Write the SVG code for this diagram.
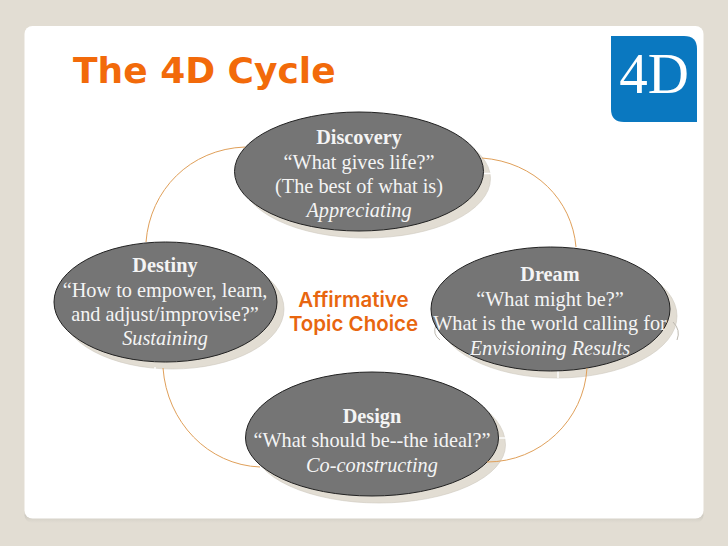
<svg xmlns="http://www.w3.org/2000/svg" width="728" height="546" viewBox="0 0 728 546">
<style>
.shadow{fill:#e2ddd3;stroke:#cfcabf;stroke-width:.6}
.oval{fill:#757575;stroke:#222;stroke-width:1}
.t{font-family:"Liberation Serif",serif;font-size:20.300px;fill:#f4f4f4;text-anchor:middle}
.b{font-weight:700}
.i{font-style:italic}
.arc{fill:none;stroke:#e0a05a;stroke-width:1}
.tick{stroke:#fff;stroke-width:1.400}
.paren{fill:none;stroke:#bdb9b0;stroke-width:1}
.atc{font-family:"Inter","Liberation Sans",sans-serif;font-weight:600;font-size:20.500px;fill:#e8660f;text-anchor:middle}
</style>
<defs>
<linearGradient id="ps" x1="0" y1="0" x2="0" y2="1"><stop offset="0" stop-color="#bdbab3"/><stop offset="1" stop-color="#e2ddd3"/></linearGradient>
</defs>
<rect width="728" height="546" fill="#e2ddd3"/>
<g id="panel">
<rect x="24.500" y="508" width="679" height="15" rx="8" fill="url(#ps)"/>
<rect x="24.500" y="26" width="679" height="492.500" rx="8" fill="#fff"/>
</g>
<text x="73" y="83" font-family="'DejaVu Sans',Verdana,sans-serif" font-weight="700" font-size="36" fill="#f26a0a">The 4D Cycle</text>
<g id="logo">
<path d="M611 36H684Q697 36 697 49V122H624Q611 122 611 109Z" fill="#0a78c0"/>
<text x="654" y="93" font-family="'Liberation Serif',serif" font-size="57" fill="#fff" text-anchor="middle">4D</text>
</g>
<g id="node-discovery">
<ellipse class="shadow" cx="366" cy="178.500" rx="124.500" ry="59.500"/>
<path class="tick" d="M483 173.500H491M235 173.500H237"/>
<ellipse class="oval" cx="359" cy="171.500" rx="124.500" ry="59.500"/>
<text class="t b" x="359" y="143.500">Discovery</text>
<text class="t" x="359" y="168.500">“What gives life?”</text>
<text class="t" x="359" y="192.500">(The best of what is)</text>
<text class="t i" x="359" y="216.500">Appreciating</text>
</g>
<g id="node-dream">
<ellipse class="shadow" cx="557.500" cy="316" rx="119.500" ry="62"/>
<path class="paren" d="M436 325Q432 334 440 340M673 322Q681 330 677 340"/>
<path class="tick" d="M558 371V378"/>
<ellipse class="oval" cx="550.500" cy="309" rx="119.500" ry="62"/>
<text class="t b" x="550" y="280.500">Dream</text>
<text class="t" x="550" y="305.500">“What might be?”</text>
<text class="t" x="550" y="329.500">What is the world calling for</text>
<text class="t i" x="550" y="354.500">Envisioning Results</text>
</g>
<g id="node-destiny">
<ellipse class="shadow" cx="172.500" cy="309" rx="111.500" ry="60"/>
<path class="tick" d="M155 242V244M155 367V369"/>
<ellipse class="oval" cx="165.500" cy="302" rx="111.500" ry="60"/>
<text class="t b" x="165" y="271.500">Destiny</text>
<text class="t" x="165" y="296.500">“How to empower, learn,</text>
<text class="t" x="165" y="320.500">and adjust/improvise?”</text>
<text class="t i" x="165" y="344.500">Sustaining</text>
</g>
<g id="node-design">
<path class="shadow" d="M252.500 445A126.500 66 0 0 1 505.500 445A126.500 58 0 0 1 252.500 445Z"/>
<path class="tick" d="M499 438H507"/>
<path class="oval" d="M245.500 438A126.500 66 0 0 1 498.500 438A126.500 58 0 0 1 245.500 438Z"/>
<text class="t b" x="372" y="422.500">Design</text>
<text class="t" x="372" y="446.500">“What should be--the ideal?”</text>
<text class="t i" x="372" y="471.500">Co-constructing</text>
</g>
<g id="connectors">
<path class="arc" d="M245 147C190 149 150 190 146 242"/>
<path class="arc" d="M482 158C535 162 572 200 576 247"/>
<path class="arc" d="M163 368C167 422 208 465 260 467"/>
<path class="arc" d="M587 368C584 420 540 462 487 462"/>
</g>
<g id="center-label">
<text class="atc" x="353.500" y="307">Affirmative</text>
<text class="atc" x="353.500" y="330.500">Topic Choice</text>
</g>
</svg>
